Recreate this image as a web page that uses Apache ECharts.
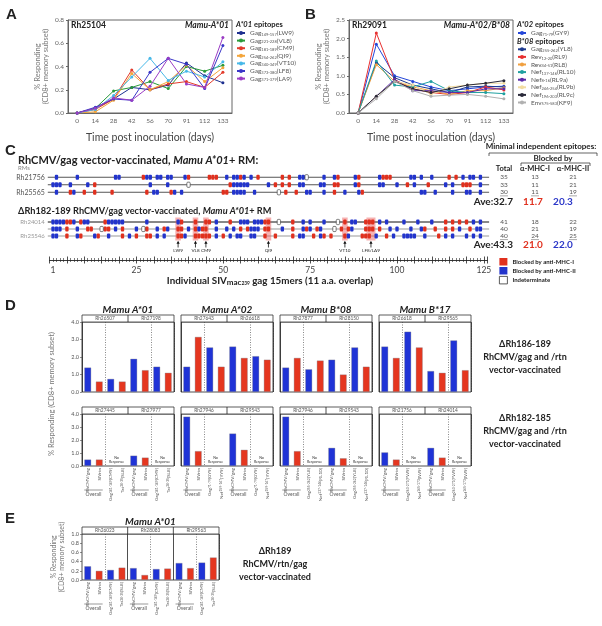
<!DOCTYPE html>
<html><head><meta charset="utf-8">
<script src="https://cdn.jsdelivr.net/npm/echarts@6.0.0/dist/echarts.min.js"></script>
<style>html,body{margin:0;padding:0;background:#fff;}#chart{width:602px;height:626px;}</style>
</head><body><div id="chart"></div>
<script>
const FONT = 'Lato, "Open Sans", "DejaVu Sans", sans-serif';

// ---------------- Panel A data ----------------
const daysA = ['0','14','28','42','56','70','91','112','133'];
const aKeys = ['LW9','VL8','CM9','QI9','VT10','LF8','LA9'];
const aLegend = ['Gag{s|149-157}(LW9)','Gag{s|221-228}(VL8)','Gag{s|181-189}(CM9)','Gag{s|254-262}(QI9)','Gag{s|340-349}(VT10)','Gag{s|373-380}(LF8)','Gag{s|371-379}(LA9)'];
const aColors = ['#1d2f8f','#2a9a3a','#e23a2a','#f4a53a','#46b8e8','#3a36c8','#9a3cc4'];
const aLW9  = [0,0.04,0.12,0.22,0.20,0.24,0.43,0.32,0.26];
const aVL8  = [0,0.04,0.19,0.22,0.27,0.21,0.40,0.36,0.41];
const aCM9  = [0,0.03,0.12,0.37,0.20,0.25,0.27,0.22,0.35];
const aQI9  = [0,0.01,0.11,0.34,0.20,0.27,0.41,0.27,0.39];
const aVT10 = [0,0.03,0.15,0.31,0.47,0.28,0.36,0.31,0.44];
const aLF8  = [0,0.05,0.12,0.11,0.35,0.47,0.42,0.21,0.58];
const aLA9  = [0,0.04,0.13,0.11,0.23,0.47,0.25,0.22,0.65];
const aData = [aLW9,aVL8,aCM9,aQI9,aVT10,aLF8,aLA9];

// ---------------- Panel B data ----------------
const bKeys = ['GY9','YL8','RL9','RL8','RL10','RL9a','RL9b','RL9c','KF9'];
const bLegend = ['Gag{s|71-79}(GY9)','Gag{s|255-262}(YL8)','Rev{s|12-20}(RL9)','Rev{s|44-51}(RL8)','Nef{s|137-146}(RL10)','Nef{s|8-16}(RL9a)','Nef{s|246-254}(RL9b)','Nef{s|196-203}(RL9c)','Env{s|575-583}(KF9)'];
const bColors = ['#2446d8','#1d3a8f','#e83030','#f0a040','#1fa0a0','#5a2aa8','#f2dca0','#2a2a3a','#b0b0b0'];
const bGY9  = [0,1.85,1.00,0.85,0.70,0.60,0.65,0.70,0.72];
const bYL8  = [0,1.35,0.95,0.75,0.65,0.55,0.70,0.72,0.70];
const bRL9  = [0,2.15,0.90,0.65,0.55,0.50,0.55,0.70,0.62];
const bRL8  = [0,1.30,0.85,0.70,0.60,0.50,0.60,0.60,0.68];
const bRL10 = [0,1.40,0.75,0.70,0.85,0.60,0.55,0.55,0.52];
const bRL9a = [0,0.45,0.90,0.60,0.60,0.55,0.55,0.65,0.65];
const bRL9b = [0,0.45,0.85,0.75,0.50,0.70,0.75,0.80,0.80];
const bRL9c = [0,0.45,0.85,0.65,0.55,0.65,0.75,0.80,0.87];
const bKF9  = [0,0.38,0.85,0.60,0.45,0.48,0.50,0.45,0.38];
const bData = [bGY9,bYL8,bRL9,bRL8,bRL10,bRL9a,bRL9b,bRL9c,bKF9];

// ---------------- Panel C data ----------------
const c1Rows = ['Rh21756','Rh25545','Rh25565'];
const c1Red = [
  [27,40,46,47,48,55,60,67,69,83,89,96,97,98,115,117],
  [13,52,65,67,69,82,83,89,103,109,119,120,121],
  [6,10,13,18,28,35,50,51,68,71,82,90]];
const c1Blue = [
  [2,8,19,20,28,29,31,32,34,35,39,51,53,54,56,58,72,73,79,82,88,95,104,105,107,110,119,121,122,124],
  [1,2,3,6,11,29,34,53,54,55,56,57,63,72,73,78,79,88,95,96,100,105,114,116,124],
  [2,7,30,31,36,38,53,54,55,56,59,74,75,79,85,89,107,108,111,116,120,121,124]];
const c1White = [[74],[40],[66]];
const c2Rows = ['Rh24014','Rh25104','Rh25546'];
const c2Red = [
  [5,6,9,16,38,42,45,46,52,62,63,70,85,91,92,93,114,116,118,120],
  [5,11,12,16,17,21,28,33,37,38,42,44,45,55,57,62,63,70,74,77,84,86,91,92,93,95,108,111,114,116,121],
  [5,9,14,21,25,28,29,37,38,42,43,44,45,46,50,62,65,70,76,79,81,85,90,91,92,97,112]];
const c2Blue = [
  [1,2,3,4,7,10,11,17,18,19,20,21,28,37,48,55,56,57,59,60,61,73,75,79,87,88,95,97,102,106,110,122,124],
  [1,2,3,8,19,25,31,34,40,43,48,51,53,58,59,60,67,73,75,78,87,98,100,104,107,118,123,124],
  [1,2,8,13,17,23,31,33,39,48,52,54,55,58,59,72,73,78,86,94,99,102,103,104,105,108,114,116,120,122,124]];
const c2White = [[66,83],[15,27,82],[]];
const highlightPos = [37,42,45,63,85,92.5];
const highlightWidth = [1.6,1.6,1.6,1.6,1.6,2.6];
const arrowLabels = ['LW9','VL8','CM9','QI9','VT10','LF8/LA9'];
const rulerLabels = [1,25,50,75,100,125];
const c1Total = [35,33,30], c1MhcI = [13,11,11], c1MhcII = [21,21,19], c1Ave = ['32.7','11.7','20.3'];
const c2Total = [41,40,40], c2MhcI = [18,21,24], c2MhcII = [22,19,25], c2Ave = ['43.3','21.0','22.0'];

// ---------------- Panel D / E data ----------------
const dGroups = ['Mamu A*01','Mamu A*02','Mamu B*08','Mamu B*17'];
const dTopAnimals = [['Rh26507','Rh27198'],['Rh27643','Rh26618'],['Rh27877','Rh28150'],['Rh26618','Rh29565']];
const dBotAnimals = [['Rh27445','Rh27977'],['Rh27946','Rh29543'],['Rh27946','Rh29543'],['Rh21756','Rh24014']];
const dTopVals = [
  [1.4,0.6,0.75,0.6,1.9,1.25,1.45,1.1],
  [1.45,3.15,2.55,1.45,2.6,1.95,2.05,1.85],
  [1.4,1.95,1.3,1.8,1.85,1.0,2.55,1.45],
  [2.6,1.95,3.45,2.55,1.2,1.1,2.95,1.25]];
const dBotVals = [
  [0.5,0.5,null,null,0.8,0.65,null,null],
  [3.8,1.15,null,null,2.5,1.25,null,null],
  [3.8,1.15,null,null,1.4,0.6,null,null],
  [1.05,0.5,null,null,1.4,0.65,null,null]];
const dEpitopes = [
  ['Gag{s|181-189}(CM9)','Tat{s|28-35}(SL8)'],
  ['Gag{s|71-79}(GY9)','Nef{s|159-167}(YY9)'],
  ['Gag{s|255-262}(YL8)','Nef{s|137-146}(RL10)'],
  ['Gag{s|263-271}(FW9)','Nef{s|165-173}(IW9)']];
const eAnimals = ['Rh26023','Rh28083','Rh29563'];
const eVals = [0.30,0.20,0.22,0.27, 0.26,0.11,0.24,0.25, 0.37,0.26,0.38,0.49];
const eEpitopes = ['Gag{s|181-189}(CM9)','Tat{s|28-35}(SL8)'];

// ---------------- styling helpers ----------------
const RED = '#e5361f', BLUE = '#1f33d6';
const txt = (x,y,text,o={}) => ({type:'text', x, y, silent:true, z:20,
  style:Object.assign({text, fontFamily:FONT, fontSize:8, fill:'#222', align:'left', verticalAlign:'middle'}, o)});
const ln = (x1,y1,x2,y2,o={}) => ({type:'line', silent:true, z:20, shape:{x1,y1,x2,y2}, style:Object.assign({stroke:'#222', lineWidth:0.8}, o)});
const rc = (x,y,w,h,o={}) => ({type:'rect', silent:true, z:19, shape:{x,y,width:w,height:h}, style:Object.assign({fill:'#fff', stroke:'#333', lineWidth:0.8}, o)});
const subRich = {s:{fontSize:4, fontFamily:FONT, verticalAlign:'bottom', padding:[2,0,0,0], lineHeight:7}};

const grids = [], xAxes = [], yAxes = [], series = [], graphics = [];
function addGrid(g){ grids.push(Object.assign({show:false, containLabel:false, outerBoundsMode:'none'}, g)); return grids.length-1; }

// ---------------- Panels A & B ----------------
function timePanel(left, ymax, yint, keys, data, colors, prefix){
  const gi = addGrid({left, top:20, width:164, height:93, show:true, borderColor:'#666', borderWidth:1});
  xAxes.push({type:'category', gridIndex:gi, data:daysA, boundaryGap:true,
    axisLine:{lineStyle:{color:'#666'}}, axisTick:{alignWithLabel:true, length:2, lineStyle:{color:'#666'}},
    axisLabel:{fontSize:6.5, color:'#666', margin:4, fontFamily:FONT},
    name:'Time post inoculation (days)', nameLocation:'middle', nameGap:19,
    nameTextStyle:{fontSize:10.5, color:'#444', fontFamily:FONT}});
  yAxes.push({type:'value', gridIndex:gi, min:0, max:ymax, interval:yint,
    axisLine:{show:true, lineStyle:{color:'#666'}}, axisTick:{show:true, length:2, lineStyle:{color:'#666'}},
    splitLine:{show:false},
    axisLabel:{fontSize:6.5, color:'#666', margin:4, fontFamily:FONT, formatter:v=>v.toFixed(1)},
    name:'% Responding\n(CD8+ memory subset)', nameLocation:'middle', nameRotate:90, nameGap:18,
    nameTextStyle:{fontSize:7.5, color:'#777', lineHeight:8.5, fontFamily:FONT}});
  data.forEach((arr,i)=>series.push({name:prefix+keys[i], type:'line', xAxisIndex:gi, yAxisIndex:gi, data:arr,
    symbol:'circle', symbolSize:3, showSymbol:true, itemStyle:{color:colors[i]}, lineStyle:{width:1, color:colors[i]}, z:3, silent:true}));
  return gi;
}
timePanel(68, 0.8, 0.2, aKeys, aData, aColors, 'A');
timePanel(349, 2.5, 0.5, bKeys, bData, bColors, 'B');

// ---------------- Panel C ----------------
function cGrid(top, rows, labelColor, labelSize){
  const gi = addGrid({left:47.8, width:441.3, top, height:rows.length*(top<200?7.5:7)});
  xAxes.push({type:'value', gridIndex:gi, min:-0.5, max:126.5, show:false});
  yAxes.push({type:'category', gridIndex:gi, data:rows, inverse:true,
    axisLine:{show:false}, axisTick:{show:false}, splitLine:{show:false},
    axisLabel:{fontSize:labelSize, color:labelColor, margin:3, fontFamily:FONT}});
  return gi;
}
const gC1 = cGrid(173.5, c1Rows, '#555', 7);
const gC2 = cGrid(218.5, c2Rows, '#999', 6);

function rowLines(gi, n, colors){
  series.push({type:'custom', xAxisIndex:gi, yAxisIndex:gi, silent:true, z:1,
    data:Array.from({length:n},(_,i)=>[0,i]), encode:{x:0,y:1},
    renderItem(params, api){
      const cs = params.coordSys; const y = api.coord([0, api.value(1)])[1];
      return {type:'line', shape:{x1:cs.x, y1:y, x2:cs.x+cs.width, y2:y}, style:{stroke:colors[params.dataIndex], lineWidth:1}};
    }});
}
rowLines(gC1, 3, ['#555','#555','#555']);
rowLines(gC2, 3, ['#111','#999','#999']);

// highlight columns in group 2
series.push({type:'custom', xAxisIndex:gC2, yAxisIndex:gC2, silent:true, z:2,
  data:highlightPos.map((p,i)=>[p,0,highlightWidth[i]]), encode:{x:0,y:1},
  renderItem(params, api){
    const x = api.coord([api.value(0),0])[0];
    const top = api.coord([api.value(0),0])[1]-4.5, bot = api.coord([api.value(0),2])[1]+4.5;
    const w = api.size([api.value(2),0])[0];
    return {type:'rect', shape:{x:x-w/2, y:top, width:w, height:bot-top}, style:{fill:'rgba(235,85,85,0.45)'}};
  }});

function markSeries(gi, name, rowsArr, fill, stroke){
  const data = [];
  rowsArr.forEach((arr,r)=>arr.forEach(p=>data.push([p,r])));
  series.push({type:'custom', name, xAxisIndex:gi, yAxisIndex:gi, silent:true, z:4,
    itemStyle:{color:fill, borderColor:stroke||fill, borderWidth:stroke?0.8:0},
    data, encode:{x:0,y:1},
    renderItem(params, api){
      const c = api.coord([api.value(0), api.value(1)]);
      const w = api.size([1,0])[0];
      return {type:'rect', shape:{x:c[0]-w*0.48, y:c[1]-2.6, width:w*0.96, height:5.2, r:1},
        style:{fill, stroke:stroke||null, lineWidth:stroke?0.7:0}};
    }});
}
[[gC1,c1Red,c1Blue,c1White],[gC2,c2Red,c2Blue,c2White]].forEach(([gi,r,b,w])=>{
  markSeries(gi,'Blocked by anti-MHC-I',r,'#e0301e');
  markSeries(gi,'Blocked by anti-MHC-II',b,'#2234cc');
  markSeries(gi,'Indeterminate',w,'#ffffff','#444');
});

// arrows
series.push({type:'custom', xAxisIndex:gC2, yAxisIndex:gC2, silent:true, z:5,
  data:highlightPos.map(p=>[p,2]), encode:{x:0,y:1},
  renderItem(params, api){
    const c = api.coord([api.value(0), 2]);
    const x = c[0], y0 = c[1]+4.5;
    return {type:'group', children:[
      {type:'line', shape:{x1:x, y1:y0+2, x2:x, y2:y0+7}, style:{stroke:'#111', lineWidth:0.8}},
      {type:'polygon', shape:{points:[[x-1.6,y0+3.2],[x+1.6,y0+3.2],[x,y0+0.3]]}, style:{fill:'#111'}},
      {type:'text', x, y:y0+10.5, style:{text:arrowLabels[params.dataIndex], fontSize:4.6, fontFamily:FONT, fill:'#222', align:'center', verticalAlign:'middle'}}
    ]};
  }});

// ruler
const gR = addGrid({left:49.5, width:437.85, top:259, height:1});
yAxes.push({type:'value', gridIndex:gR, show:false});
xAxes.push({type:'value', gridIndex:gR, min:0, max:126, interval:5, position:'bottom',
  axisLine:{show:true, lineStyle:{color:'#222', width:0.9}},
  axisTick:{show:true, length:3.5, lineStyle:{color:'#222', width:0.8}},
  minorTick:{show:true, splitNumber:5, length:2, lineStyle:{color:'#222', width:0.6}},
  axisLabel:{show:false}, splitLine:{show:false}});
xAxes.push({type:'value', gridIndex:gR, min:0, max:126, interval:5, position:'bottom',
  axisLine:{show:false}, axisTick:{show:true, inside:true, length:3.5, lineStyle:{color:'#222', width:0.8}},
  minorTick:{show:true, splitNumber:5, length:2, lineStyle:{color:'#222', width:0.6}},
  axisLabel:{show:false}, splitLine:{show:false}});
xAxes.push({type:'value', gridIndex:gR, min:0, max:126, interval:1, position:'bottom',
  axisLine:{show:false}, axisTick:{show:false}, splitLine:{show:false},
  axisLabel:{show:true, fontSize:8.5, color:'#444', margin:6, fontFamily:FONT,
    formatter:v=>rulerLabels.includes(v)?String(v):''}});
series.push({type:'line', xAxisIndex:xAxes.length-1, yAxisIndex:gR, data:[], silent:true});

// ---------------- Panels D & E ----------------
function barGrid(left, width, top, height, vals, labels, ymax, yint, showY, solidIdx, dotIdx){
  const gi = addGrid({left, width, top, height, show:true, borderColor:'#222', borderWidth:0.8});
  const xi = xAxes.length;
  xAxes.push({type:'category', gridIndex:gi, data:labels, position:'bottom', boundaryGap:true,
    axisLine:{show:false}, axisTick:{show:false},
    axisLabel:{show:!!labels[0], interval:0, rotate:90, fontSize:4.6, color:'#555', margin:2, fontFamily:FONT, rich:{s:{fontSize:3.3, fontFamily:FONT}}},
    splitLine:{show:true, interval:(i)=>solidIdx.includes(i), lineStyle:{color:'#222', width:0.8, type:'solid'}}});
  xAxes.push({type:'category', gridIndex:gi, data:labels, position:'bottom', boundaryGap:true,
    axisLine:{show:false}, axisTick:{show:false}, axisLabel:{show:false},
    splitLine:{show:true, interval:(i)=>dotIdx.includes(i), lineStyle:{color:'#555', width:0.7, type:[1,1.5]}}});
  yAxes.push({type:'value', gridIndex:gi, min:0, max:ymax, interval:yint,
    axisLine:{show:false}, splitLine:{show:false},
    axisTick:{show:showY, length:2, lineStyle:{color:'#444', width:0.6}},
    axisLabel:{show:showY, fontSize:5.5, color:'#555', margin:3, fontFamily:FONT, formatter:v=>v.toFixed(1)}});
  series.push({type:'bar', xAxisIndex:xi, yAxisIndex:yAxes.length-1, barWidth:'60%', silent:true, z:3,
    data:vals.map((v,i)=>({value:v, itemStyle:{color:i%2?RED:BLUE, borderColor:'rgba(120,120,130,0.55)', borderWidth:0.6}}))});
  return gi;
}
const dLefts = [82,181,280,379], dW = 92;
const dTopY = 322, dTopH = 70, dBotY = 414, dBotH = 52;
dGroups.forEach((g,k)=>{
  const L = dLefts[k];
  barGrid(L, dW, dTopY, dTopH, dTopVals[k], new Array(8).fill(''), 4, 1, k===0, [4], [2,6]);
  const labs = ['RhCMV/gag','SIVrtn',dEpitopes[k][0],dEpitopes[k][1],'RhCMV/gag','SIVrtn',dEpitopes[k][0],dEpitopes[k][1]];
  barGrid(L, dW, dBotY, dBotH, dBotVals[k], labs, 4, 1, k===0, [4], [2,6]);
  graphics.push(txt(L+dW/2, 310, g, {fontSize:10, fontWeight:'bold', fontStyle:'italic', align:'center'}));
  [[dTopY, dTopAnimals[k]], [dBotY, dBotAnimals[k]]].forEach(([y, an])=>{
    graphics.push(rc(L, y-7, dW, 7));
    graphics.push(ln(L+dW/2, y-7, L+dW/2, y));
    graphics.push(txt(L+dW/4, y-3.5, an[0], {fontSize:4.8, fill:'#555', align:'center'}));
    graphics.push(txt(L+3*dW/4, y-3.5, an[1], {fontSize:4.8, fill:'#555', align:'center'}));
  });
  const slot = dW/8;
  [0,1].forEach(a=>{
    const c0 = L+(4*a+0.5)*slot, c1 = L+(4*a+1.5)*slot, nr = L+(4*a+3)*slot;
    graphics.push(ln(c0-3.5, dBotY+dBotH+24, c1+3.5, dBotY+dBotH+24, {lineWidth:0.6, stroke:'#555'}));
    graphics.push(txt((c0+c1)/2, dBotY+dBotH+28, 'Overall', {fontSize:5, fill:'#555', align:'center'}));
    graphics.push(txt(nr, dBotY+dBotH-6, 'No\nResponse', {fontSize:3.6, fill:'#333', align:'center', lineHeight:4}));
  });
});
// E
const eL = 82, eW = 137, eTop = 534, eH = 46;
const eLabs = [];
eAnimals.forEach(()=>eLabs.push('RhCMV/gag','SIVrtn',eEpitopes[0],eEpitopes[1]));
barGrid(eL, eW, eTop, eH, eVals, eLabs, 1, 0.2, true, [4,8], [2,6,10]);
graphics.push(txt(eL+eW/2, 522, 'Mamu A*01', {fontSize:10, fontWeight:'bold', fontStyle:'italic', align:'center'}));
graphics.push(rc(eL, eTop-7, eW, 7));
eAnimals.forEach((an,i)=>{
  if(i>0) graphics.push(ln(eL+i*eW/3, eTop-7, eL+i*eW/3, eTop));
  graphics.push(txt(eL+(i+0.5)*eW/3, eTop-3.5, an, {fontSize:4.8, fill:'#555', align:'center'}));
  const slot = eW/12, c0 = eL+(4*i+0.5)*slot, c1 = eL+(4*i+1.5)*slot;
  graphics.push(ln(c0-3.5, eTop+eH+24, c1+3.5, eTop+eH+24, {lineWidth:0.6, stroke:'#555'}));
  graphics.push(txt((c0+c1)/2, eTop+eH+28, 'Overall', {fontSize:5, fill:'#555', align:'center'}));
});

// ---------------- text graphics ----------------
const LET = {fontSize:15, fontWeight:'bold', fontFamily:'"Liberation Sans", Arial'};
graphics.push(txt(6,15,'A',LET));
graphics.push(txt(305,15,'B',LET));
graphics.push(txt(5,151,'C',LET));
graphics.push(txt(5,306,'D',LET));
graphics.push(txt(5,519,'E',LET));
graphics.push(txt(71,25,'Rh25104',{fontSize:8.5, fontWeight:'bold'}));
graphics.push(txt(229,25,'Mamu-A*01',{fontSize:8.5, fontWeight:'bold', fontStyle:'italic', align:'right'}));
graphics.push(txt(352,25,'Rh29091',{fontSize:8.5, fontWeight:'bold'}));
graphics.push(txt(510,25,'Mamu-A*02/B*08',{fontSize:8.5, fontWeight:'bold', fontStyle:'italic', align:'right'}));
const headRich = {bi:{fontWeight:'bold', fontStyle:'italic', fontSize:7.5, fontFamily:FONT}, b:{fontWeight:'bold', fontSize:7.5, fontFamily:FONT}};
graphics.push(txt(236,25,'{bi|A*01} {b|epitopes}',{rich:headRich}));
graphics.push(txt(517,25,'{bi|A*02} {b|epitopes}',{rich:headRich}));
graphics.push(txt(517,42,'{bi|B*08} {b|epitopes}',{rich:headRich}));

const cRich = (fs)=>({b:{fontWeight:'bold', fontSize:fs, fontFamily:FONT, fill:'#222'}, bi:{fontWeight:'bold', fontStyle:'italic', fontSize:fs, fontFamily:FONT, fill:'#222'}});
graphics.push(txt(18,160.5,'{b|RhCMV/gag vector-vaccinated, }{bi|Mamu A*01}{b|+ RM:}',{rich:cRich(11)}));
graphics.push(txt(18,168.5,'RMs',{fontSize:6, fill:'#888'}));
graphics.push(txt(18,211,'{b|\u0394Rh182-189 RhCMV/gag vector-vaccinated, }{bi|Mamu A*01}{b|+ RM}',{rich:cRich(9.2)}));
graphics.push(txt(270,281,'{b|Individual SIV}{m|mac}{s|239}{b| gag 15mers (11 a.a. overlap)}',{rich:{
  b:{fontWeight:'bold', fontSize:9.8, fontFamily:FONT, fill:'#222'},
  m:{fontWeight:'bold', fontSize:8, fontFamily:FONT, fill:'#222', verticalAlign:'bottom'},
  s:{fontWeight:'bold', fontSize:4.8, fontFamily:FONT, fill:'#222', verticalAlign:'bottom'}}, align:'center'}));
// right table
graphics.push(txt(541,146,'Minimal independent epitopes:',{fontSize:8, fontWeight:'bold', align:'center'}));
graphics.push(ln(489,153,597,153,{lineWidth:0.7}));
graphics.push(ln(489,153,489,156,{lineWidth:0.7}));
graphics.push(ln(597,153,597,156,{lineWidth:0.7}));
graphics.push(txt(553,158,'Blocked by',{fontSize:8, fontWeight:'bold', align:'center'}));
graphics.push(ln(521,163,590,163,{lineWidth:0.7}));
graphics.push(ln(521,163,521,166,{lineWidth:0.7}));
graphics.push(ln(590,163,590,166,{lineWidth:0.7}));
graphics.push(txt(504,168.5,'Total',{fontSize:7.5, fontWeight:'bold', align:'center'}));
graphics.push(txt(535,168.5,'\u03b1-MHC-I',{fontSize:7.5, fontWeight:'bold', align:'center'}));
graphics.push(txt(573,168.5,'\u03b1-MHC-II',{fontSize:7.5, fontWeight:'bold', align:'center'}));
const colX = [504,535,573];
[[[177.25,184.75,192.25],[c1Total,c1MhcI,c1MhcII],c1Ave,202],[[222,229,236],[c2Total,c2MhcI,c2MhcII],c2Ave,245]].forEach(([ys,cols,ave,ay])=>{
  ys.forEach((y,r)=>cols.forEach((col,ci)=>{
    graphics.push(txt(colX[ci], y, String(col[r]), {fontSize:6.5, fill:'#555', align:'center'}));
    if(r===2) graphics.push(ln(colX[ci]-4, y+3.6, colX[ci]+4, y+3.6, {lineWidth:0.5, stroke:'#555'}));
  }));
  graphics.push(txt(513, ay, 'Ave:'+ave[0], {fontSize:10, fontWeight:'bold', align:'right'}));
  graphics.push(txt(533, ay, ave[1], {fontSize:10, fontWeight:'bold', align:'center', fill:'#e0301e'}));
  graphics.push(txt(563, ay, ave[2], {fontSize:10, fontWeight:'bold', align:'center', fill:'#2a36c8'}));
});
[['\u0394Rh186-189','RhCMV/gag and /rtn','vector-vaccinated',344],['\u0394Rh182-185','RhCMV/gag and /rtn','vector-vaccinated',418]].forEach(([a,b,c,y])=>{
  graphics.push(txt(525,y,a,{fontSize:9, fontWeight:'bold', align:'center'}));
  graphics.push(txt(525,y+13,b,{fontSize:9, fontWeight:'bold', align:'center'}));
  graphics.push(txt(525,y+26,c,{fontSize:9, fontWeight:'bold', align:'center'}));
});
graphics.push(txt(275,551,'\u0394Rh189',{fontSize:9, fontWeight:'bold', align:'center'}));
graphics.push(txt(275,564,'RhCMV/rtn/gag',{fontSize:9, fontWeight:'bold', align:'center'}));
graphics.push(txt(275,577,'vector-vaccinated',{fontSize:9, fontWeight:'bold', align:'center'}));
graphics.push(Object.assign(txt(52,394,'% Responding (CD8+ memory subset)',{fontSize:7.5, fill:'#777', align:'center'}),{rotation:Math.PI/2}));
graphics.push(Object.assign(txt(58,557,'% Responding\n(CD8+ memory subset)',{fontSize:7, fill:'#777', align:'center', lineHeight:8}),{rotation:Math.PI/2}));

// ---------------- legends ----------------
const legText = {fontFamily:FONT, fontSize:6.5, color:'#555', lineHeight:7, rich:subRich};
const legends = [
  {left:236, top:29.5, data:aKeys.map(k=>'A'+k), formatter:n=>aLegend[aKeys.indexOf(n.slice(1))]},
  {left:517, top:29.5, data:['B'+bKeys[0]], formatter:n=>bLegend[bKeys.indexOf(n.slice(1))]},
  {left:517, top:45.8, data:bKeys.slice(1).map(k=>'B'+k), formatter:n=>bLegend[bKeys.indexOf(n.slice(1))]}
].map(l=>Object.assign({orient:'vertical', itemWidth:8, itemHeight:5, itemGap:0.6, itemStyle:{}, textStyle:legText, padding:0, selectedMode:false}, l));
legends.push({orient:'vertical', left:499, top:258, itemWidth:8, itemHeight:7.5, itemGap:1.5, padding:0, icon:'rect', selectedMode:false,
  textStyle:{fontFamily:FONT, fontSize:6, fontWeight:'bold', color:'#222'},
  data:['Blocked by anti-MHC-I','Blocked by anti-MHC-II',{name:'Indeterminate', itemStyle:{color:'#fff', borderColor:'#333', borderWidth:0.8}}]});

const chart = echarts.init(document.getElementById('chart'), null, {renderer:'canvas'});
chart.setOption({
  animation:false, backgroundColor:'#fff',
  textStyle:{fontFamily:FONT},
  grid:grids, xAxis:xAxes, yAxis:yAxes, series, legend:legends, graphic:graphics
});
</script></body></html>
